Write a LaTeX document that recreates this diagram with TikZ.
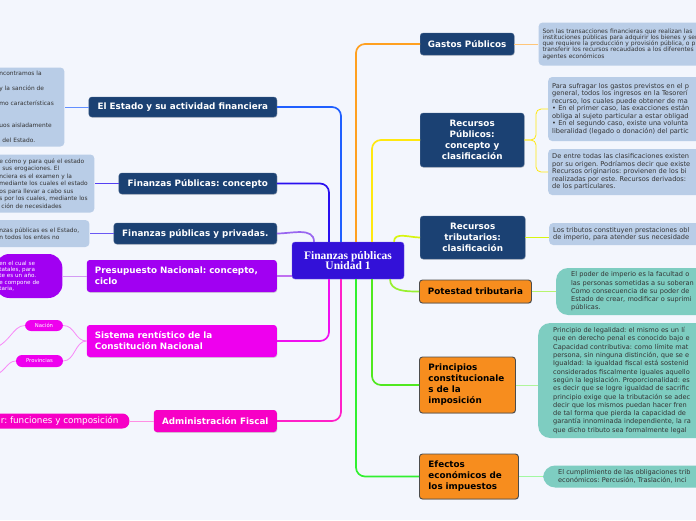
\documentclass[tikz,border=0pt]{standalone}
\usepackage{fontspec}
\setmainfont{DejaVu Sans}
\newfontfamily\serifFont{Liberation Serif}
\usetikzlibrary{shadows, positioning}
\definecolor{bgColor}{HTML}{F3F6FD}
\definecolor{navy}{HTML}{1B4173}
\definecolor{noteBlue}{HTML}{B9CDE7}
\definecolor{noteTeal}{HTML}{7ECDC1}
\definecolor{orangeBox}{HTML}{F78D1E}
\definecolor{purpleBox}{HTML}{A100F2}
\definecolor{magentaBox}{HTML}{EE00EE}
\definecolor{pinkBox}{HTML}{F700C6}
\definecolor{centreColor}{HTML}{3311D8}
\definecolor{cEstado}{HTML}{1F5FFF}
\definecolor{cConcepto}{HTML}{2A10F0}
\definecolor{cPrivadas}{HTML}{9966F0}
\definecolor{cPresupuesto}{HTML}{C070F0}
\definecolor{cSistema}{HTML}{F010F0}
\definecolor{cAdmin}{HTML}{FF20C8}
\definecolor{cGastos}{HTML}{FFA020}
\definecolor{cRecPub}{HTML}{FFE810}
\definecolor{cRecTrib}{HTML}{D8F510}
\definecolor{cPotestad}{HTML}{98F030}
\definecolor{cPrincipios}{HTML}{50E820}
\definecolor{cEfectos}{HTML}{30F030}
\tikzstyle{centreBox}=[rectangle, rounded corners=3pt, align=center, fill=centreColor,
draw=centreColor!70!white, text=white, font=\serifFont\bfseries\fontsize{11.5}{10.5}\selectfont]
\tikzstyle{topic}=[rectangle, rounded corners=3pt, inner sep=0pt, align=center, text=white,
font=\fontsize{8.8}{11}\selectfont\bfseries, drop shadow={shadow xshift=0.5pt, shadow yshift=-0.8pt, opacity=0.3}]
\tikzstyle{navyTopic}=[topic, fill=navy, draw=navy!80!white]
\tikzstyle{orangeTopic}=[topic, fill=orangeBox, draw=black!70, line width=0.9pt, text=black]
\tikzstyle{note}=[rectangle, rounded corners=4pt, align=left, fill=noteBlue, text=black!80,
inner xsep=4pt, inner ysep=0pt, font=\fontsize{6.6}{7.5}\selectfont]
\tikzstyle{tealNote}=[note, fill=noteTeal, rounded corners=12pt, inner xsep=15pt, font=\fontsize{6.6}{8.3}\selectfont]
\tikzstyle{leftNote}=[note, font=\fontsize{5.9}{7.5}\selectfont]
\tikzstyle{pill}=[rectangle, rounded corners=6pt, align=center, text=white, inner sep=0pt]
\tikzstyle{branch}=[line width=1.7pt, rounded corners=9pt]
\tikzstyle{twig}=[line width=0.8pt]
\frenchspacing
\begin{document}
\begin{tikzpicture}[x=1pt, y=-1pt, node distance=24pt]
  \useasboundingbox[fill=bgColor] (0,0) rectangle (696,520);
  \node(centre) [centreBox, minimum width=112pt, minimum height=37pt] at (348,260.5)
  {Finanzas públicas\\Unidad 1};

  % right side
  \node(gastos) [navyTopic, minimum width=94pt, minimum height=22pt, anchor=west] at (420,44)
  {Gastos Públicos};
  \node(gastosNote) [note, right=of gastos, minimum height=43pt, text width=170pt,
  font=\fontsize{6}{6.3}\selectfont]
  {Son las transacciones financieras que realizan las\\instituciones públicas para adquirir los bienes y ser\\
    que requiere la producción y provisión pública, o p\\transferir los recursos recaudados a los diferentes\\
    agentes económicos};
  \draw [branch, draw=cGastos] ([xshift=8pt]centre.north) |- (gastos.west);
  \draw [twig, draw=cGastos!60] (gastos.east) -- (gastosNote.west);

  \node(recPub) [navyTopic, minimum width=104pt, minimum height=54pt, anchor=west] at (420,140)
  {Recursos\\Públicos:\\concepto y\\clasificación};
  \node(recPubNoteA) [note, anchor=west, minimum height=64pt, text width=170pt] at (548,109)
  {Para sufragar los gastos previstos en el p\\general, todos los ingresos en la Tesorerí\\
    recurso, los cuales puede obtener de ma\\• En el primer caso, las exacciones están\\
    obliga al sujeto particular a estar obligad\\• En el segundo caso, existe una volunta\\
    liberalidad (legado o donación) del partic};
  \node(recPubNoteB) [note, anchor=west, minimum height=46pt, text width=170pt] at (548,172)
  {De entre todas las clasificaciones existen\\por su origen. Podríamos decir que existe\\
    Recursos originarios: provienen de los bi\\realizadas por este. Recursos derivados:\\
    de los particulares.};
  \draw [branch, draw=cRecPub] ([xshift=24pt]centre.north) |- (recPub.west);
  \draw [twig, draw=cRecPub, rounded corners=5pt] (recPub.east) -| ([xshift=-12pt]recPubNoteA.west)
  -- (recPubNoteA.west);
  \draw [twig, draw=cRecPub, rounded corners=5pt] (recPub.east) -| ([xshift=-12pt]recPubNoteB.west)
  -- (recPubNoteB.west);

  \node(recTrib) [navyTopic, minimum width=105pt, minimum height=43pt, anchor=west] at (420,237.5)
  {Recursos\\tributarios:\\clasificación};
  \node(recTribNote) [note, anchor=west, minimum height=22pt, text width=170pt] at (549,234)
  {Los tributos constituyen prestaciones obl\\de imperio, para atender sus necesidade};
  \draw [branch, draw=cRecTrib] ([xshift=46pt]centre.north) to[out=90, in=180] (recTrib.west);
  \draw [twig, draw=cRecTrib] (recTrib.east) -- (recTribNote.west |- recTrib.east);

  \node(potestad) [orangeTopic, minimum width=112pt, minimum height=23pt, anchor=west] at (419,291.5)
  {Potestad tributaria};
  \node(potestadNote) [tealNote, right=of potestad, minimum height=47pt, text width=150pt]
  {El poder de imperio es la facultad o\\las personas sometidas a su soberan\\
    Como consecuencia de su poder de\\Estado de crear, modificar o suprimi\\públicas.};
  \draw [branch, draw=cPotestad] ([xshift=42pt]centre.south) to[out=-90, in=180] (potestad.west);
  \draw [twig, draw=cPotestad!70] (potestad.east) -- (potestadNote.west);

  \node(principios) [orangeTopic, minimum height=56pt, text width=78pt, inner xsep=9pt, align=left,
  anchor=west] at (419,385) {Principios\\constitucionale\\s de la\\imposición};
  \node(principiosNote) [tealNote, anchor=west, minimum height=115pt, text width=170pt] at (538,380.5)
  {Principio de legalidad: el mismo es un lí\\que en derecho penal es conocido bajo e\\
    Capacidad contributiva: como límite mat\\persona, sin ninguna distinción, que se e\\
    Igualdad: la igualdad fiscal está sostenid\\considerados fiscalmente iguales aquello\\
    según la legislación. Proporcionalidad: es\\es decir que se logre igualdad de sacrific\\
    principio exige que la tributación se adec\\decir que los mismos puedan hacer fren\\
    de tal forma que pierda la capacidad de\\garantía innominada independiente, la ra\\
    que dicho tributo sea formalmente legal};
  \draw [branch, draw=cPrincipios] ([xshift=24pt]centre.south) |- (principios.west);
  \draw [twig, draw=cPrincipios!45] (principios.east) -- (principiosNote.west |- principios.east);

  \node(efectos) [orangeTopic, minimum height=45pt, text width=81pt, inner xsep=9pt, align=left,
  anchor=west] at (419,476.5) {Efectos\\económicos de\\los impuestos};
  \node(efectosNote) [tealNote, right=of efectos, minimum height=22pt, text width=170pt]
  {El cumplimiento de las obligaciones trib\\económicos: Percusión, Traslación, Inci};
  \draw [branch, draw=cEfectos] ([xshift=8pt]centre.south) |- (efectos.west);
  \draw [twig, draw=cEfectos!45] (efectos.east) -- (efectosNote.west);

  % left side
  \node(estado) [navyTopic, minimum width=188pt, minimum height=20pt, anchor=east] at (277,107)
  {El Estado y su actividad financiera};
  \node(estadoNote) [leftNote, left=of estado, minimum height=79pt, text width=61pt]
  {ncontramos la\\[7.5pt]y la sanción de\\[7.5pt]mo características\\[15pt]uos aisladamente\\[7.5pt]
    \hspace*{3pt}del Estado.};
  \draw [branch, draw=cEstado] ([xshift=-7pt]centre.north) |- (estado.east);
  \draw [twig, draw=cEstado!70] (estado.west) -- (estadoNote.east);

  \node(concepto) [navyTopic, minimum width=158pt, minimum height=21pt, anchor=east] at (277,183.5)
  {Finanzas Públicas: concepto};
  \node(conceptoNote) [leftNote, left=of concepto, minimum height=58pt, text width=91pt]
  {e cómo y para qué el estado\\\hspace*{3pt}sus erogaciones. El\\nciera es el examen y la\\
    mediante los cuales el estado\\os para llevar a cabo sus\\s por los cuales, mediante los\\
    \hspace*{2pt}ción de necesidades};
  \draw [branch, draw=cConcepto] ([xshift=-19pt]centre.north) |- (concepto.east);
  \draw [twig, draw=cConcepto!80] (concepto.west) -- (conceptoNote.east);

  \node(privadas) [navyTopic, minimum width=163pt, minimum height=21pt, anchor=east] at (277,233.5)
  {Finanzas públicas y privadas.};
  \node(privadasNote) [leftNote, left=of privadas, minimum height=27pt, text width=86pt]
  {nzas públicas es el Estado,\\n todos los entes no};
  \draw [branch, draw=cPrivadas] ([xshift=-34pt]centre.north) to[out=90, in=0] (privadas.east);
  \draw [twig, draw=cConcepto!70] (privadas.west) -- (privadasNote.east);

  \node(presupuesto) [topic, fill=purpleBox, minimum height=32pt, text width=174pt, inner xsep=8pt,
  align=left, anchor=east] at (277,276) {Presupuesto Nacional: concepto,\\ciclo};
  \node(presupuestoNote) [note, left=of presupuesto, fill=purpleBox, text=white, rounded corners=14pt,
  minimum height=44pt, text width=59pt, font=\fontsize{5.6}{6.4}\selectfont]
  {en el cual se\\tatales, para\\te es un año.\\e compone de\\taria,};
  \draw [branch, draw=cPresupuesto] (presupuesto.east) -- (presupuesto.east -| centre.west);
  \draw [twig, draw=cPresupuesto!70] (presupuesto.west) -- (presupuestoNote.east);

  \node(sistema) [topic, fill=magentaBox, minimum height=32pt, text width=174pt, inner xsep=8pt,
  align=left, anchor=east] at (277,341) {Sistema rentístico de la\\Constitución Nacional};
  \node(nacion) [pill, fill=magentaBox, minimum width=38pt, minimum height=11pt,
  font=\fontsize{5.3}{6}\selectfont] at (44,325.5) {Nación};
  \node(provincias) [pill, fill=magentaBox, minimum width=47pt, minimum height=12pt,
  font=\fontsize{5.3}{6}\selectfont] at (39.5,361) {Provincias};
  \coordinate(nacionLeaf) at (-12,350);
  \coordinate(provinciasLeaf) at (-12,378);
  \draw [branch, draw=cSistema] ([xshift=-19pt]centre.south) |- (sistema.east);
  \draw [twig, draw=cSistema!50] (sistema.west) .. controls (75,341) and (75,325.5) .. (nacion.east);
  \draw [twig, draw=cSistema!50] (sistema.west) .. controls (75,341) and (75,361) .. (provincias.east);
  \draw [twig, draw=cSistema!50] (nacion.west) .. controls (12,325.5) and (10,346) .. (nacionLeaf);
  \draw [twig, draw=cSistema!50] (provincias.west) .. controls (6,361) and (6,374) .. (provinciasLeaf);

  \node(admin) [topic, fill=pinkBox, minimum width=123pt, minimum height=22pt, anchor=east] at (277,421)
  {Administración Fiscal};
  \node(adminNote) [pill, fill=pinkBox, left=of admin, minimum height=15pt, rounded corners=7pt,
  inner xsep=11pt, font=\fontsize{8.8}{10}\selectfont] {r: funciones y composición};
  \draw [branch, draw=cAdmin] ([xshift=-7pt]centre.south) |- (admin.east);
  \draw [twig, draw=cAdmin!50] (admin.west) -- (adminNote.east);
\end{tikzpicture}
\end{document}
